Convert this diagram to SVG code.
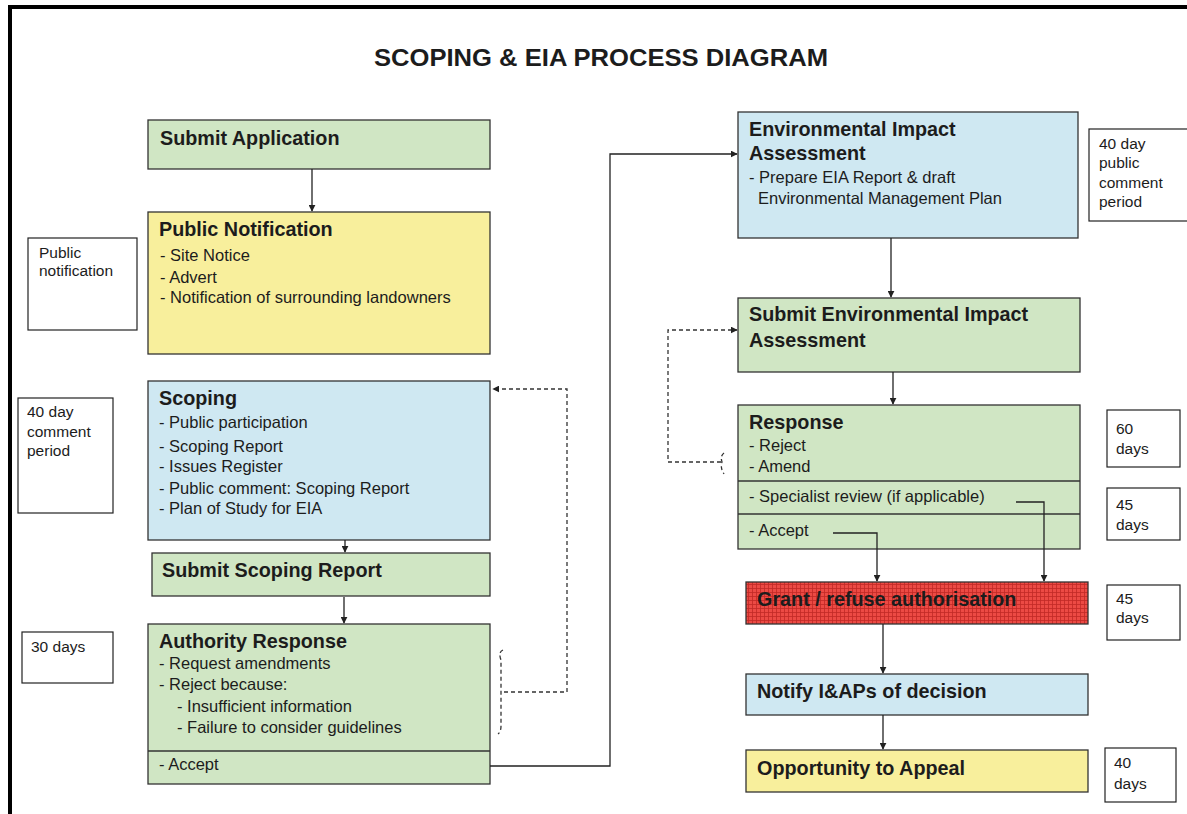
<svg xmlns="http://www.w3.org/2000/svg" width="1187" height="814" viewBox="0 0 1187 814">
<defs>
<style>
.t{font-family:"Liberation Sans",Arial,sans-serif;fill:#1c1c1c}
.h{font-size:19.8px;font-weight:bold}
.b{font-size:16.5px}
.s{font-size:15.5px}
.box{stroke:#333;stroke-width:1.3}
.g{fill:#d0e6c4}
.y{fill:#f8ef9c}
.c{fill:#cfe8f2}
.w{fill:#fff;stroke:#222;stroke-width:1.2}
.ln{fill:none;stroke:#222;stroke-width:1.3}
.ds{fill:none;stroke:#333;stroke-width:1.3;stroke-dasharray:4 3}
</style>
<marker id="ah" viewBox="0 0 10 10" refX="9" refY="5" markerWidth="7" markerHeight="7" orient="auto" markerUnits="userSpaceOnUse">
<path d="M0,0 L10,5 L0,10 z" fill="#222"/>
</marker>
<pattern id="grid" width="4" height="4" patternUnits="userSpaceOnUse">
<rect width="4" height="4" fill="#ec4a44"/>
<path d="M0,0.5 H4 M0.5,0 V4" stroke="#c22a26" stroke-width="0.8"/>
</pattern>
</defs>
<rect width="1187" height="814" fill="#fff"/>
<path d="M10,814 V7 H1187" fill="none" stroke="#000" stroke-width="4"/>
<text class="t" x="374" y="66" font-size="23" font-weight="bold" textLength="454" lengthAdjust="spacingAndGlyphs">SCOPING &amp; EIA PROCESS DIAGRAM</text>

<g id="submit-application">
<rect class="box g" x="148" y="120" width="342" height="49"/>
<text class="t h" x="160" y="145">Submit Application</text>
</g>

<g id="public-notification">
<rect class="box y" x="148" y="212" width="342" height="142"/>
<text class="t h" x="159" y="236">Public Notification</text>
<text class="t b" x="160" y="261">- Site Notice</text>
<text class="t b" x="160" y="283">- Advert</text>
<text class="t b" x="160" y="303">- Notification of surrounding landowners</text>
</g>

<g id="note-public-notification">
<rect class="w" x="28" y="238" width="109" height="92"/>
<text class="t s" x="39" y="258">Public</text>
<text class="t s" x="39" y="276">notification</text>
</g>

<g id="scoping">
<rect class="box c" x="148" y="381" width="342" height="159"/>
<text class="t h" x="159" y="405">Scoping</text>
<text class="t b" x="159" y="428">- Public participation</text>
<text class="t b" x="159" y="452">- Scoping Report</text>
<text class="t b" x="159" y="472">- Issues Register</text>
<text class="t b" x="159" y="494">- Public comment: Scoping Report</text>
<text class="t b" x="159" y="514">- Plan of Study for EIA</text>
</g>

<g id="note-scoping">
<rect class="w" x="18" y="398" width="95" height="115"/>
<text class="t s" x="27" y="417">40 day</text>
<text class="t s" x="27" y="437">comment</text>
<text class="t s" x="27" y="456">period</text>
</g>

<g id="submit-scoping-report">
<rect class="box g" x="152" y="553" width="338" height="43"/>
<text class="t h" x="162" y="577">Submit Scoping Report</text>
</g>

<g id="authority-response">
<rect class="box g" x="148" y="624" width="342" height="160"/>
<line class="box" x1="148" y1="751" x2="490" y2="751"/>
<text class="t h" x="159" y="648">Authority Response</text>
<text class="t b" x="159" y="669">- Request amendments</text>
<text class="t b" x="159" y="690">- Reject because:</text>
<text class="t b" x="177" y="712">- Insufficient information</text>
<text class="t b" x="177" y="733">- Failure to consider guidelines</text>
<text class="t b" x="159" y="770">- Accept</text>
</g>

<g id="note-30-days">
<rect class="w" x="22" y="632" width="91" height="51"/>
<text class="t s" x="31" y="652">30 days</text>
</g>

<g id="eia">
<rect class="box c" x="738" y="112" width="340" height="126"/>
<text class="t h" x="749" y="136">Environmental Impact</text>
<text class="t h" x="749" y="160">Assessment</text>
<text class="t b" x="749" y="183">- Prepare EIA Report &amp; draft</text>
<text class="t b" x="758" y="204">Environmental Management Plan</text>
</g>

<g id="note-eia">
<rect class="w" x="1089" y="129" width="100" height="92"/>
<text class="t s" x="1099" y="149">40 day</text>
<text class="t s" x="1099" y="168">public</text>
<text class="t s" x="1099" y="188">comment</text>
<text class="t s" x="1099" y="207">period</text>
</g>

<g id="submit-eia">
<rect class="box g" x="738" y="298" width="342" height="74"/>
<text class="t h" x="749" y="321">Submit Environmental Impact</text>
<text class="t h" x="749" y="347">Assessment</text>
</g>

<g id="response">
<rect class="box g" x="738" y="405" width="342" height="144"/>
<line class="box" x1="738" y1="481" x2="1080" y2="481"/>
<line class="box" x1="738" y1="514" x2="1080" y2="514"/>
<text class="t h" x="749" y="429">Response</text>
<text class="t b" x="749" y="451">- Reject</text>
<text class="t b" x="749" y="472">- Amend</text>
<text class="t b" x="749" y="502">- Specialist review (if applicable)</text>
<text class="t b" x="749" y="536">- Accept</text>
</g>

<g id="note-60-days">
<rect class="w" x="1107" y="410" width="73" height="57"/>
<text class="t s" x="1116" y="434">60</text>
<text class="t s" x="1116" y="454">days</text>
</g>

<g id="note-45-days-a">
<rect class="w" x="1107" y="488" width="73" height="52"/>
<text class="t s" x="1116" y="510">45</text>
<text class="t s" x="1116" y="530">days</text>
</g>

<g id="grant-refuse">
<rect class="box" x="746" y="582" width="342" height="42" fill="url(#grid)"/>
<text class="t h" x="757" y="606" fill="#3a1010">Grant / refuse authorisation</text>
</g>

<g id="note-45-days-b">
<rect class="w" x="1107" y="585" width="73" height="55"/>
<text class="t s" x="1116" y="604">45</text>
<text class="t s" x="1116" y="623">days</text>
</g>

<g id="notify">
<rect class="box c" x="746" y="674" width="342" height="41"/>
<text class="t h" x="757" y="698">Notify I&amp;APs of decision</text>
</g>

<g id="appeal">
<rect class="box y" x="746" y="750" width="342" height="42"/>
<text class="t h" x="757" y="775">Opportunity to Appeal</text>
</g>

<g id="note-40-days">
<rect class="w" x="1105" y="748" width="71" height="54"/>
<text class="t s" x="1114" y="768">40</text>
<text class="t s" x="1114" y="789">days</text>
</g>

<g id="connectors">
<line class="ln" x1="312" y1="169" x2="312" y2="211" marker-end="url(#ah)"/>
<line class="ln" x1="345" y1="540" x2="345" y2="552" marker-end="url(#ah)"/>
<line class="ln" x1="344" y1="597" x2="344" y2="623" marker-end="url(#ah)"/>
<path class="ds" d="M503,650 Q498,652 501,660 V726 Q501,732 498,734"/>
<path class="ds" d="M504,692 H567 V389 H493" marker-end="url(#ah)"/>
<path class="ln" d="M490,766 H610 V154 H737" marker-end="url(#ah)"/>
<line class="ln" x1="891" y1="238" x2="891" y2="297" marker-end="url(#ah)"/>
<line class="ln" x1="893" y1="372" x2="893" y2="404" marker-end="url(#ah)"/>
<path class="ds" d="M724,453 Q720,456 722,462 Q720,468 724,474"/>
<path class="ds" d="M721,462 H668 V330 H737" marker-end="url(#ah)"/>
<path class="ln" d="M833,533 H877 V581" marker-end="url(#ah)"/>
<path class="ln" d="M1016,502 H1044 V581" marker-end="url(#ah)"/>
<line class="ln" x1="883" y1="624" x2="883" y2="673" marker-end="url(#ah)"/>
<line class="ln" x1="883" y1="715" x2="883" y2="749" marker-end="url(#ah)"/>
</g>
</svg>
